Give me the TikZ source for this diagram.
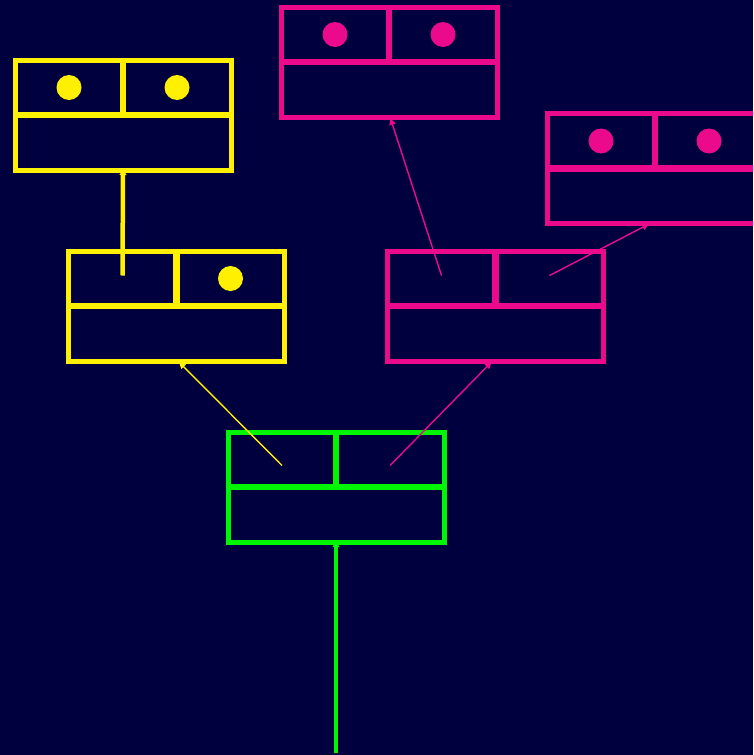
\documentclass[tikz,border=0pt]{standalone}
\usetikzlibrary{arrows.meta,calc}
\definecolor{bg}{RGB}{0,0,62}
\definecolor{yel}{RGB}{255,240,0}
\definecolor{mag}{RGB}{236,10,140}
\definecolor{grn}{RGB}{0,245,0}
\tikzset{
  recbox/.style={draw=#1, line width=5pt, rectangle, minimum width=216pt, minimum height=110pt, inner sep=0pt, outer sep=0pt},
  divider/.style={draw=#1, line width=6.5pt},
  dot/.style={fill=#1, circle, minimum size=25pt, inner sep=0pt},
  thinlink/.style={draw=#1, line width=1.4pt, -{Latex[length=8pt,width=7pt]}},
  thicklink/.style={draw=#1, line width=4.5pt, -{Latex[length=6pt,width=8pt]}, shorten >=-1pt},
}
\newcommand\myrecord[3]{%
  \node[recbox=#3] (#1) at (#2) {};
  \draw[divider=#3] (#1.west) -- (#1.east);
  \draw[divider=#3] (#1.north) -- (#1.center);
  \coordinate (#1-l) at ($(#1.center)+(-54,-27.5)$);
  \coordinate (#1-r) at ($(#1.center)+(54,-27.5)$);
}
\begin{document}
\begin{tikzpicture}[x=1pt,y=-1pt]
\fill[bg] (0,0) rectangle (753,755);
\useasboundingbox (0,0) rectangle (753,755);
\begin{scope}
\clip (0,0) rectangle (753,755);
\myrecord{ytop}{123,115}{yel}
\myrecord{mtop}{389,62}{mag}
\myrecord{mright}{655,168.5}{mag}
\myrecord{ymid}{176.5,306}{yel}
\myrecord{mmid}{495.5,306}{mag}
\myrecord{gbot}{336,487}{grn}
\node[dot=yel] (d1) at (ytop-l) {};
\node[dot=yel] (d2) at (ytop-r) {};
\node[dot=mag] (d3) at (mtop-l) {};
\node[dot=mag] (d4) at (mtop-r) {};
\node[dot=mag] (d5) at (mright-l) {};
\node[dot=mag] (d6) at (mright-r) {};
\node[dot=yel] (d7) at (ymid-r) {};
\coordinate (gstart) at (336,753);
\coordinate (ystart) at ($(ymid-l)+(0,-3)$);
\draw[thicklink=grn, line width=4pt] (gstart) -- (gbot.south);
\draw[thicklink=yel] (ystart) -- (ytop.south);
\draw[thinlink=yel] ($(gbot-l)+(0,6)$) -- ($(ymid.south)+(1.5,0)$);
\draw[thinlink=mag] ($(gbot-r)+(0,6)$) -- ($(mmid.south)+(-3,0)$);
\draw[thinlink=mag] ($(mmid-l)+(0,-3)$) -- ($(mtop.south)+(1,0)$);
\draw[thinlink=mag] ($(mmid-r)+(0,-3)$) -- ($(mright.south)+(-5,0)$);
\end{scope}
\end{tikzpicture}
\end{document}
